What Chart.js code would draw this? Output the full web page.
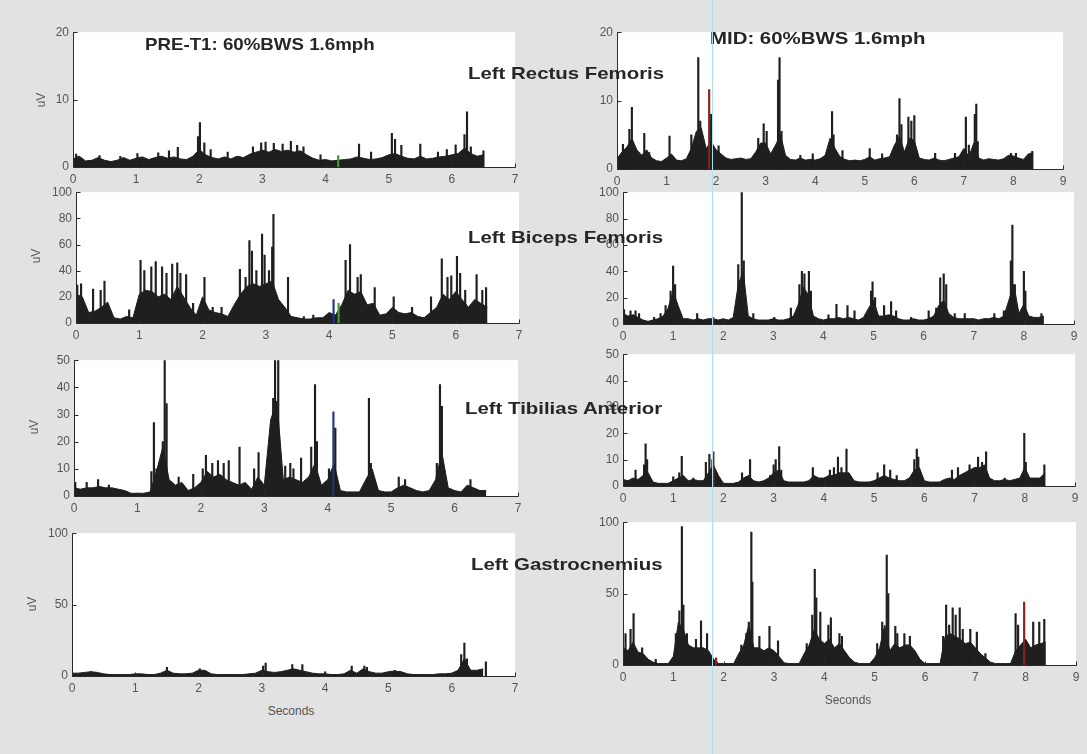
<!DOCTYPE html>
<html>
<head>
<meta charset="utf-8">
<script src="https://cdn.jsdelivr.net/npm/chart.js@4.4.1/dist/chart.umd.min.js"></script>
<style>
  html, body { margin: 0; padding: 0; }
  body {
    width: 1087px; height: 754px; position: relative; overflow: hidden;
    background: #e2e2e2;
    font-family: "Liberation Sans", Arial, sans-serif;
  }
  .panel { position: absolute; }
  .title {
    position: absolute; font-weight: bold; font-size: 17px; color: #262626;
    white-space: nowrap; transform-origin: 0 50%;
  }
  .ylab {
    position: absolute; font-size: 12px; color: #555;
    transform: translate(-50%, -50%) rotate(-90deg);
  }
  .xlab { position: absolute; font-size: 12px; color: #555; transform: translate(-50%, -50%); }
  #scanline { position: absolute; left: 712px; top: 0; width: 1px; height: 754px; background: #a6e3ea; }
</style>
</head>
<body>
<script>
// ---------------- DATA ----------------
// envelope samples every 0.1 s (uV), spikes are [seconds, uV]
const DT = 0.1;

const preRectusEnv = [
  1.2, 1.6, 0.9, 1.0, 1.4, 1.0, 0.8, 1.0, 1.4, 1.0,
  1.3, 1.5, 1.1, 1.4, 1.6, 1.3, 1.5, 1.2, 1.1, 1.6,
  2.6, 1.8, 1.4, 1.2, 1.5, 1.2, 1.6, 1.4, 1.9, 2.2,
  2.5, 2.2, 2.6, 2.3, 2.5, 2.2, 2.4, 1.8, 1.3, 1.0,
  1.1, 0.9, 1.0, 1.1, 1.2, 1.5, 1.3, 1.1, 1.2, 1.4,
  1.8, 2.0, 1.6, 1.3, 1.2, 1.6, 1.2, 1.3, 1.5, 1.6,
  1.8, 2.0, 2.8, 2.0, 1.6, 1.8
];
const preRectusSpikes = [
  [0.05, 1.9], [0.42, 1.7], [0.75, 1.6], [1.02, 2.0], [1.35, 2.1], [1.52, 2.4], [1.66, 2.9],
  [1.98, 4.5], [2.01, 6.6], [2.08, 3.6], [2.18, 2.6], [2.45, 2.2], [2.85, 3.0], [2.98, 3.6],
  [3.05, 3.7], [3.18, 3.5], [3.32, 3.4], [3.45, 3.8], [3.55, 3.2], [3.65, 3.0], [3.92, 1.8],
  [4.2, 1.7], [4.53, 3.4], [4.72, 2.2], [5.05, 5.0], [5.1, 4.1], [5.2, 3.2], [5.5, 3.4],
  [5.78, 2.2], [5.92, 2.6], [6.06, 3.3], [6.2, 4.8], [6.24, 8.2], [6.3, 3.0], [6.5, 2.4]
];

const midRectusEnv = [
  1.5, 2.5, 3.2, 4.5, 2.8, 2.0, 2.8, 1.6, 1.2, 1.1,
  1.6, 2.2, 1.3, 1.2, 1.5, 3.0, 5.5, 6.0, 3.0, 4.0,
  2.8, 2.2, 1.6, 1.4, 1.5, 1.6, 1.4, 1.5, 2.5, 3.8,
  3.8, 2.2, 3.5, 5.0, 2.0, 1.4, 1.3, 1.6, 1.3, 1.4,
  1.3, 1.5, 2.0, 4.5, 3.0, 1.8, 1.4, 1.2, 1.3, 1.2,
  1.4, 1.8, 1.3, 1.5, 1.6, 1.8, 3.5, 4.8, 2.5, 4.5,
  4.2, 1.6, 1.4, 1.3, 1.6, 1.3, 1.2, 1.4, 1.6, 1.8,
  3.0, 1.8, 3.8, 1.6, 1.3, 1.5, 1.4, 1.3, 1.5, 2.0,
  1.9, 1.6, 1.4, 2.2, 2.4
];
const midRectusSpikes = [
  [0.12, 3.6], [0.25, 5.8], [0.3, 9.0], [0.55, 5.2], [0.65, 2.4], [1.06, 4.8], [1.5, 5.0],
  [1.64, 16.3], [1.68, 7.0], [1.86, 11.6], [1.9, 8.0], [2.05, 3.4], [2.85, 4.5], [2.96, 6.6],
  [3.02, 5.5], [3.25, 13.0], [3.28, 16.3], [3.32, 5.5], [3.7, 2.0], [3.95, 2.2], [4.34, 8.4],
  [4.37, 5.0], [4.55, 2.7], [5.1, 3.0], [5.35, 2.2], [5.65, 5.0], [5.7, 10.3], [5.74, 6.5],
  [5.88, 7.6], [5.94, 7.0], [6.0, 7.8], [6.42, 2.3], [6.82, 2.3], [7.04, 7.6], [7.1, 3.5],
  [7.22, 8.0], [7.25, 9.5], [7.28, 4.0], [7.95, 2.3], [8.05, 2.3], [8.38, 2.6]
];

const preBicepsEnv = [
  22, 20, 8, 9, 12, 16, 4, 3, 5, 4,
  22, 25, 24, 20, 22, 18, 28, 20, 12, 6,
  20, 10, 8, 7, 5, 14, 22, 28, 30, 28,
  30, 32, 18, 12, 5, 4, 3, 3, 4, 4,
  8, 6, 14, 25, 22, 24, 14, 15, 6, 7,
  12, 8, 7, 8, 5, 4, 8, 12, 22, 18,
  24, 18, 12, 18, 15, 12
];
const preBicepsSpikes = [
  [0.02, 29], [0.08, 30], [0.27, 26], [0.39, 25], [0.45, 32], [0.84, 10], [1.02, 48],
  [1.08, 40], [1.19, 43], [1.26, 47], [1.36, 43], [1.43, 38], [1.52, 45], [1.6, 46],
  [1.65, 38], [1.74, 37], [1.85, 15], [2.03, 35], [2.16, 12], [2.3, 12], [2.59, 41],
  [2.68, 35], [2.74, 63], [2.78, 55], [2.85, 40], [2.94, 68], [2.98, 52], [3.05, 40],
  [3.1, 58], [3.12, 83], [3.35, 35], [3.6, 5], [3.75, 6], [4.07, 18], [4.15, 15],
  [4.26, 48], [4.33, 60], [4.45, 35], [4.5, 37], [4.72, 27], [5.02, 20], [5.31, 12],
  [5.61, 20], [5.78, 49], [5.87, 35], [5.93, 36], [6.02, 51], [6.07, 38], [6.15, 25],
  [6.33, 37], [6.42, 25], [6.48, 27]
];

const midBicepsEnv = [
  8, 6, 7, 5, 3, 2, 3, 4, 6, 12,
  25, 14, 4, 4, 3, 4, 3, 4, 4, 3,
  4, 3, 5, 30, 40, 6, 4, 3, 3, 3,
  4, 3, 3, 4, 6, 15, 28, 22, 6, 4,
  3, 4, 4, 5, 4, 5, 4, 3, 5, 12,
  18, 6, 6, 7, 6, 4, 3, 3, 4, 3,
  3, 4, 6, 14, 18, 8, 5, 4, 4, 4,
  4, 3, 4, 4, 5, 4, 6, 18, 30, 8,
  15, 6, 5, 5, 6
];
const midBicepsSpikes = [
  [0.02, 11], [0.15, 10], [0.25, 10], [0.32, 8], [0.62, 5], [0.75, 8], [0.85, 14],
  [0.95, 25], [1.0, 44], [1.04, 30], [1.48, 8], [1.8, 5], [2.25, 10], [2.3, 45],
  [2.37, 100], [2.41, 48], [2.6, 8], [3.02, 5], [3.35, 12], [3.52, 30], [3.57, 40],
  [3.62, 38], [3.71, 40], [3.75, 25], [4.1, 7], [4.26, 15], [4.48, 14], [4.62, 10],
  [4.85, 8], [4.95, 25], [4.98, 32], [5.03, 20], [5.21, 14], [5.35, 17], [5.45, 10],
  [5.75, 5], [6.1, 10], [6.25, 12], [6.33, 35], [6.4, 38], [6.45, 30], [6.62, 8],
  [6.82, 8], [7.41, 8], [7.6, 10], [7.74, 48], [7.77, 75], [7.82, 30], [8.0, 40],
  [8.03, 25], [8.35, 8]
];

const preTibEnv = [
  3, 2.5, 3, 3, 3.5, 3, 3, 2.5, 2, 1,
  1, 1, 1.5, 9, 18, 6, 4, 5, 2, 3,
  5, 9, 7, 8, 6, 5, 4, 5, 2.5, 7,
  4, 28, 35, 6, 7, 6, 5, 7, 12, 4,
  6, 12, 2, 1.5, 1.5, 1.5, 6, 10, 2, 1.5,
  1.5, 3, 4, 3, 2, 1.5, 2, 6, 16, 3,
  2, 1.5, 4, 3, 2, 2
];
const preTibSpikes = [
  [0.02, 5], [0.2, 5], [0.38, 6], [0.55, 4], [1.22, 9], [1.26, 27], [1.3, 10], [1.4, 20],
  [1.43, 50], [1.46, 34], [1.65, 7], [1.88, 8], [2.03, 10], [2.08, 15], [2.18, 12],
  [2.27, 13], [2.36, 12], [2.44, 13], [2.61, 18], [2.84, 10], [2.91, 16], [3.14, 36],
  [3.17, 50], [3.22, 50], [3.33, 11], [3.41, 12], [3.46, 10], [3.58, 14], [3.74, 18],
  [3.8, 41], [3.83, 20], [4.02, 10], [4.09, 31], [4.12, 25], [4.65, 36], [4.68, 12],
  [5.12, 7], [5.22, 6], [5.72, 12], [5.77, 41], [5.8, 33], [6.25, 6]
];

const midTibEnv = [
  2.5, 2, 3, 2.5, 4, 5, 1.5, 1, 1, 1,
  2, 3, 4, 2, 2.5, 2, 2, 5, 8, 4,
  1, 1, 1, 1.5, 3, 4, 2, 1.5, 2, 3,
  5, 6, 2, 1.5, 1.5, 1.5, 1.5, 2, 4, 3,
  3, 4, 4, 5, 5, 5, 2, 1.5, 1.5, 1.5,
  2, 3, 4, 3, 2.5, 2, 2, 3, 6, 7,
  2, 1.5, 1.5, 1.5, 2.5, 3, 2.5, 4, 5, 6,
  7, 7, 8, 3, 2, 2, 2.5, 2, 2.5, 3,
  7, 3, 3, 3, 5
];
const midTibSpikes = [
  [0.25, 6], [0.42, 8], [0.45, 16], [0.48, 10], [1.0, 3.5], [1.12, 5], [1.17, 11.3],
  [1.4, 3], [1.65, 9], [1.72, 12], [1.78, 10], [1.8, 13], [2.37, 5], [2.53, 10],
  [2.93, 4], [3.0, 8], [3.04, 10], [3.11, 15], [3.15, 6], [3.78, 7], [4.12, 6], [4.2, 7],
  [4.28, 11], [4.35, 7], [4.45, 14], [5.07, 5], [5.2, 8], [5.32, 6], [5.45, 4], [5.8, 10],
  [5.85, 14], [5.88, 11], [6.55, 6], [6.67, 7], [6.9, 8], [7.07, 11], [7.15, 9],
  [7.23, 13], [7.6, 3], [7.99, 20], [8.02, 9], [8.39, 8]
];

const preGastEnv = [
  2, 2, 2.5, 3, 2.5, 1.5, 1, 1, 1, 1,
  1.5, 1.5, 1, 1, 2, 4, 2, 1.5, 1.5, 2,
  4, 4, 1.5, 1, 1, 1, 1, 1, 1.5, 2,
  4, 3, 2.5, 3, 4, 5, 4, 3, 2, 1.5,
  1.5, 1, 1, 1.5, 4, 2, 5, 3, 2, 2,
  3, 3.5, 3, 1.5, 1, 1, 1, 1, 1.5, 1.5,
  2, 4, 12, 4, 4, 5
];
const preGastSpikes = [
  [0.3, 3], [1.5, 6], [2.02, 5], [3.02, 7], [3.06, 9], [3.48, 8], [3.64, 8], [4.0, 3],
  [4.42, 7], [4.62, 7], [4.66, 6], [5.1, 4], [6.15, 15], [6.2, 23], [6.24, 12], [6.54, 10]
];

const midGastEnv = [
  12, 10, 16, 9, 8, 4, 2, 1, 1, 1,
  6, 30, 25, 14, 12, 12, 12, 10, 4, 1,
  1, 1, 1, 8, 14, 28, 12, 12, 10, 12,
  10, 6, 1.5, 1, 1, 1, 8, 14, 25, 18,
  15, 18, 12, 15, 10, 5, 2, 1, 1, 1,
  5, 12, 28, 10, 15, 12, 14, 14, 10, 4,
  1, 1, 1, 1, 20, 22, 20, 18, 15, 16,
  12, 8, 5, 2, 1, 1, 1, 1, 10, 14,
  18, 12, 14, 15, 16
];
const midGastSpikes = [
  [0.05, 22], [0.15, 25], [0.21, 36], [0.38, 12], [0.65, 4], [1.05, 22], [1.12, 38],
  [1.17, 97], [1.2, 42], [1.27, 22], [1.45, 18], [1.55, 31], [1.67, 22], [1.85, 5],
  [2.35, 14], [2.45, 22], [2.5, 30], [2.55, 93], [2.57, 58], [2.71, 20], [2.91, 27],
  [3.08, 17], [3.65, 15], [3.76, 35], [3.81, 67], [3.84, 47], [3.92, 37], [4.08, 28],
  [4.13, 33], [4.3, 22], [4.35, 20], [5.05, 15], [5.15, 30], [5.24, 77], [5.27, 50],
  [5.41, 27], [5.45, 22], [5.59, 22], [5.7, 20], [6.36, 20], [6.42, 42], [6.48, 28],
  [6.55, 40], [6.61, 35], [6.69, 40], [6.75, 25], [6.9, 25], [7.03, 23], [7.2, 8],
  [7.8, 36], [7.85, 28], [7.97, 44], [8.15, 30], [8.27, 30], [8.37, 32]
];

// ---------------- LAYOUT ----------------
const INK = '#1f1f1f';
const RED = '#8e2020', GREEN = '#3c9c2c', BLUE = '#24348c';
const PAD = { l: 40, r: 12, t: 10, b: 24 };

// box = [left px, right px, top px, zero-line px] of each axes
// accent = spike index -> marker colour (event markers in the original trace)
const panels = [
  { env: preRectusEnv, spikes: preRectusSpikes, yMax: 20, yStep: 10, xMax: 7, box: [73, 515, 31, 167], accent: { 21: GREEN } },
  { env: midRectusEnv, spikes: midRectusSpikes, yMax: 20, yStep: 10, xMax: 9, box: [617, 1063, 31, 169], accent: { 9: RED } },
  { env: preBicepsEnv, spikes: preBicepsSpikes, yMax: 100, yStep: 20, xMax: 7, box: [76, 519, 191, 323], accent: { 33: BLUE, 34: GREEN } },
  { env: midBicepsEnv, spikes: midBicepsSpikes, yMax: 100, yStep: 20, xMax: 9, box: [623, 1074, 191, 324], accent: { 11: RED } },
  { env: preTibEnv, spikes: preTibSpikes, yMax: 50, yStep: 10, xMax: 7, box: [74, 518, 359, 496], accent: { 32: BLUE } },
  { env: midTibEnv, spikes: midTibSpikes, yMax: 50, yStep: 10, xMax: 9, box: [623, 1075, 353, 486], accent: { 11: RED } },
  { env: preGastEnv, spikes: preGastSpikes, yMax: 100, yStep: 50, xMax: 7, box: [72, 515, 532, 676], accent: {} },
  { env: midGastEnv, spikes: midGastSpikes, yMax: 100, yStep: 50, xMax: 9, box: [623, 1076, 521, 665], accent: { 13: RED, 51: RED } }
];

Chart.defaults.font.family = '"Liberation Sans", Arial, sans-serif';
Chart.defaults.font.size = 12;
Chart.defaults.color = '#555';

// white axes background + MATLAB style axis lines with inward ticks
const matlabAxes = {
    id: 'matlabAxes',
    beforeDraw(chart) {
        const a = chart.chartArea, ctx = chart.ctx;
        ctx.save();
        ctx.fillStyle = '#fff';
        ctx.fillRect(a.left, a.top, a.right - a.left, a.bottom - a.top);
        ctx.restore();
    },
    afterDraw(chart) {
        const { ctx, chartArea: a, scales: { x, y } } = chart;
        const L = Math.round(a.left) + 0.5, B = Math.round(a.bottom) + 0.5;
        ctx.save();
        ctx.strokeStyle = '#2a2a2a';
        ctx.lineWidth = 1;
        ctx.beginPath();
        ctx.moveTo(L, a.top);
        ctx.lineTo(L, B);
        ctx.lineTo(Math.round(a.right) + 0.5, B);
        y.ticks.forEach(t => {
            const py = Math.round(y.getPixelForValue(t.value)) + 0.5;
            ctx.moveTo(L, py);
            ctx.lineTo(L + 4, py);
        });
        x.ticks.forEach(t => {
            const px = Math.round(x.getPixelForValue(t.value)) + 0.5;
            ctx.moveTo(px, B);
            ctx.lineTo(px, B - 4);
        });
        ctx.stroke();
        ctx.restore();
    }
};

panels.forEach(p => {
    const [x0, x1, top, zero] = p.box;
    const div = document.createElement('div');
    div.className = 'panel';
    div.style.left = (x0 - PAD.l) + 'px';
    div.style.top = (top - PAD.t) + 'px';
    div.style.width = (x1 - x0 + PAD.l + PAD.r) + 'px';
    div.style.height = (zero - top + PAD.t + PAD.b) + 'px';
    const canvas = document.createElement('canvas');
    div.appendChild(canvas);
    document.body.appendChild(div);

    new Chart(canvas, {
        type: 'line',
        data: {
            datasets: [
                {
                    type: 'line',
                    data: p.env.map((v, i) => ({ x: +(i * DT).toFixed(2), y: v })),
                    borderColor: INK,
                    backgroundColor: INK,
                    borderWidth: 1,
                    fill: 'origin',
                    pointRadius: 0,
                    tension: 0,
                    order: 2
                },
                {
                    type: 'bar',
                    data: p.spikes.map(([t, v]) => ({ x: t, y: v })),
                    backgroundColor: ctx => p.accent[ctx.dataIndex] || INK,
                    barThickness: 1.5,
                    grouped: false,
                    order: 1
                }
            ]
        },
        options: {
            responsive: true,
            maintainAspectRatio: false,
            animation: false,
            layout: { padding: { top: PAD.t, right: PAD.r, left: 0, bottom: 0 } },
            plugins: { legend: { display: false }, tooltip: { enabled: false } },
            scales: {
                x: {
                    type: 'linear', min: 0, max: p.xMax, offset: false,
                    grid: { display: false, drawTicks: false }, border: { display: false },
                    ticks: { stepSize: 1, padding: 5, maxRotation: 0, autoSkip: false },
                    afterFit: s => { s.height = PAD.b; }
                },
                y: {
                    type: 'linear', min: 0, max: p.yMax,
                    grid: { display: false, drawTicks: false }, border: { display: false },
                    ticks: { stepSize: p.yStep, padding: 4 },
                    afterFit: s => { s.width = PAD.l; }
                }
            }
        },
        plugins: [matlabAxes]
    });
});

// ---------------- TEXT ----------------
const texts = [
    ['title', 'PRE-T1: 60%BWS 1.6mph', 145, 45, 1.1],
    ['title', 'MID: 60%BWS 1.6mph', 710, 39, 1.2],
    ['title', 'Left Rectus Femoris', 468, 74, 1.2],
    ['title', 'Left Biceps Femoris', 468, 238, 1.2],
    ['title', 'Left Tibilias Anterior', 465, 409, 1.2],
    ['title', 'Left Gastrocnemius', 471, 565, 1.2],
    ['ylab', 'uV', 41, 100],
    ['ylab', 'uV', 36, 256],
    ['ylab', 'uV', 34, 427],
    ['ylab', 'uV', 32, 604],
    ['xlab', 'Seconds', 291, 711],
    ['xlab', 'Seconds', 848, 700]
];
texts.forEach(([cls, str, x, y, sx]) => {
    const el = document.createElement('div');
    el.className = cls;
    el.textContent = str;
    el.style.left = x + 'px';
    el.style.top = y + 'px';
    if (sx) el.style.transform = `translateY(-50%) scaleX(${sx})`;
    document.body.appendChild(el);
});

const scan = document.createElement('div');
scan.id = 'scanline';
document.body.appendChild(scan);
</script>
</body>
</html>
